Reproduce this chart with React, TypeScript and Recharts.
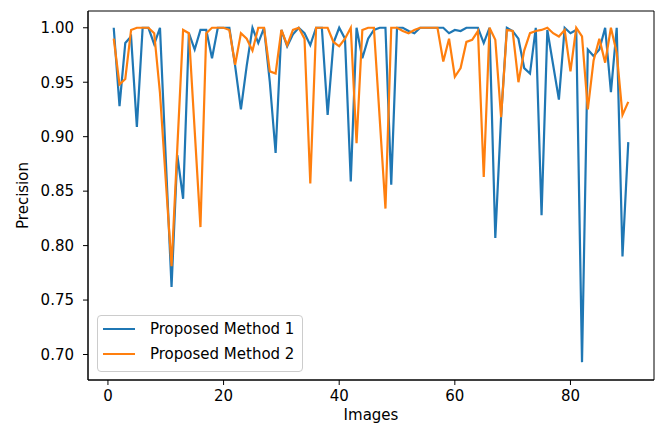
import React from 'react';
import { LineChart, Line, XAxis, YAxis, Legend, ReferenceArea } from 'recharts';

const FONT = '"DejaVu Sans", sans-serif';

const images = [
  1, 2, 3, 4, 5, 6, 7, 8, 9, 10, 11, 12, 13, 14, 15, 16, 17, 18, 19, 20,
  21, 22, 23, 24, 25, 26, 27, 28, 29, 30, 31, 32, 33, 34, 35, 36, 37, 38, 39, 40,
  41, 42, 43, 44, 45, 46, 47, 48, 49, 50, 51, 52, 53, 54, 55, 56, 57, 58, 59, 60,
  61, 62, 63, 64, 65, 66, 67, 68, 69, 70, 71, 72, 73, 74, 75, 76, 77, 78, 79, 80,
  81, 82, 83, 84, 85, 86, 87, 88, 89, 90,
];

const method1 = [
  1.0, 0.928, 0.986, 0.992, 0.909, 1.0, 1.0, 0.985, 1.0, 0.88,
  0.762, 0.883, 0.843, 0.995, 0.98, 0.998, 0.998, 0.972, 1.0, 1.0,
  1.0, 0.965, 0.925, 0.965, 1.0, 0.986, 1.0, 0.95, 0.885, 0.998,
  0.983, 0.994, 1.0, 0.995, 0.984, 1.0, 1.0, 0.92, 0.986, 1.0,
  0.99, 0.859, 1.0, 0.972, 0.99, 0.998, 1.0, 1.0, 0.856, 1.0,
  1.0, 0.997, 0.995, 1.0, 1.0, 1.0, 1.0, 1.0, 0.995, 0.998,
  0.997, 1.0, 1.0, 1.0, 0.986, 1.0, 0.807, 0.918, 1.0, 0.997,
  0.99, 0.963, 0.958, 1.0, 0.828, 0.998, 0.966, 0.934, 1.0, 0.995,
  0.998, 0.693, 0.98, 0.974, 0.98, 1.0, 0.941, 1.0, 0.79, 0.895,
];

const method2 = [
  0.99, 0.948, 0.953, 0.998, 1.0, 1.0, 1.0, 0.995, 0.94, 0.86,
  0.781, 0.89, 0.998, 0.995, 0.906, 0.817, 0.995, 1.0, 1.0, 1.0,
  0.998, 0.966, 0.995, 0.99, 0.979, 1.0, 1.0, 0.96, 0.958, 0.998,
  0.984, 0.998, 1.0, 0.99, 0.857, 1.0, 1.0, 1.0, 0.987, 0.983,
  0.99, 1.0, 0.894, 0.998, 1.0, 1.0, 0.917, 0.834, 1.0, 1.0,
  0.997, 0.995, 0.998, 1.0, 1.0, 1.0, 1.0, 0.969, 0.99, 0.955,
  0.963, 0.987, 0.989, 0.997, 0.863, 1.0, 0.989, 0.918, 0.998, 0.997,
  0.95, 0.979, 0.995, 0.997, 0.998, 1.0, 0.995, 0.992, 0.998, 0.96,
  1.0, 0.992, 0.925, 0.97, 0.99, 0.968, 1.0, 0.977, 0.92, 0.932,
];

const seriesNames = ['Proposed Method 1', 'Proposed Method 2'];
const seriesColors = ['#1f77b4', '#ff7f0e'];
const xTicks = [0, 20, 40, 60, 80];
const yTicks = [0.7, 0.75, 0.8, 0.85, 0.9, 0.95, 1.0];
const xDomain = [-3.45, 94.45];
const yDomain = [0.6766, 1.0154];

const data = images.map((img, i) => ({ img, m1: method1[i], m2: method2[i] }));

const tickStyle = { fontFamily: FONT, fontSize: 15, fill: '#000' };

const renderLegend = (props: any) => {
  const payload = props.payload || [];
  return (
    <div
      style={{
        border: '1px solid #cccccc',
        borderRadius: 4,
        background: 'rgba(255,255,255,0.8)',
        padding: '0px 8px 5px 5px',
        fontFamily: FONT,
        fontSize: 15,
        color: '#000',
      }}
    >
      {payload.map((p: any) => (
        <div key={p.value} style={{ display: 'flex', alignItems: 'center', height: 25, whiteSpace: 'nowrap' }}>
          <span
            style={{
              display: 'inline-block',
              width: 32,
              height: 0,
              borderTop: `2.2px solid ${p.color}`,
              marginRight: 15,
            }}
          />
          <span>{p.value}</span>
        </div>
      ))}
    </div>
  );
};

const YLabel = (props: any) => {
  const vb = props.viewBox || {};
  const cx = 27.5;
  const cy = vb.y + vb.height / 2;
  return (
    <text
      x={cx}
      y={cy}
      transform={`rotate(-90, ${cx}, ${cy})`}
      textAnchor="middle"
      style={{ fontFamily: FONT, fontSize: 15, fill: '#000' }}
    >
      Precision
    </text>
  );
};

export default function App() {
  return (
    <div style={{ position: 'absolute', left: 0, top: 0, width: 659, height: 432, background: '#fff' }}>
      <LineChart width={659} height={432} data={data} margin={{ top: 11, right: 5, left: 0, bottom: 0 }}>
        <XAxis
          dataKey="img"
          type="number"
          domain={xDomain}
          ticks={xTicks}
          allowDataOverflow
          height={52}
          tickSize={5}
          tickMargin={5}
          stroke="#000"
          tick={tickStyle}
          label={{ value: 'Images', position: 'insideBottom', offset: 12, style: { fontFamily: FONT, fontSize: 15, fill: '#000' } }}
        />
        <YAxis
          type="number"
          domain={yDomain}
          ticks={yTicks}
          allowDataOverflow
          width={88}
          tickSize={5}
          tickMargin={9}
          stroke="#000"
          tick={tickStyle}
          tickFormatter={(v: number) => v.toFixed(2)}
          label={{ content: YLabel }}
        />
        <ReferenceArea
          x1={xDomain[0]}
          x2={xDomain[1]}
          y1={yDomain[0]}
          y2={yDomain[1]}
          fill="none"
          fillOpacity={0}
          stroke="#000"
          strokeWidth={1}
          ifOverflow="visible"
        />
        <Legend
          layout="vertical"
          align="center"
          verticalAlign="middle"
          content={renderLegend}
          wrapperStyle={{ left: 97, top: 315, width: 'auto', height: 'auto', bottom: 'auto', right: 'auto' }}
        />
        <Line type="linear" dataKey="m1" name={seriesNames[0]} stroke={seriesColors[0]} strokeWidth={2.2} dot={false} isAnimationActive={false} />
        <Line type="linear" dataKey="m2" name={seriesNames[1]} stroke={seriesColors[1]} strokeWidth={2.2} dot={false} isAnimationActive={false} />
      </LineChart>
    </div>
  );
}
